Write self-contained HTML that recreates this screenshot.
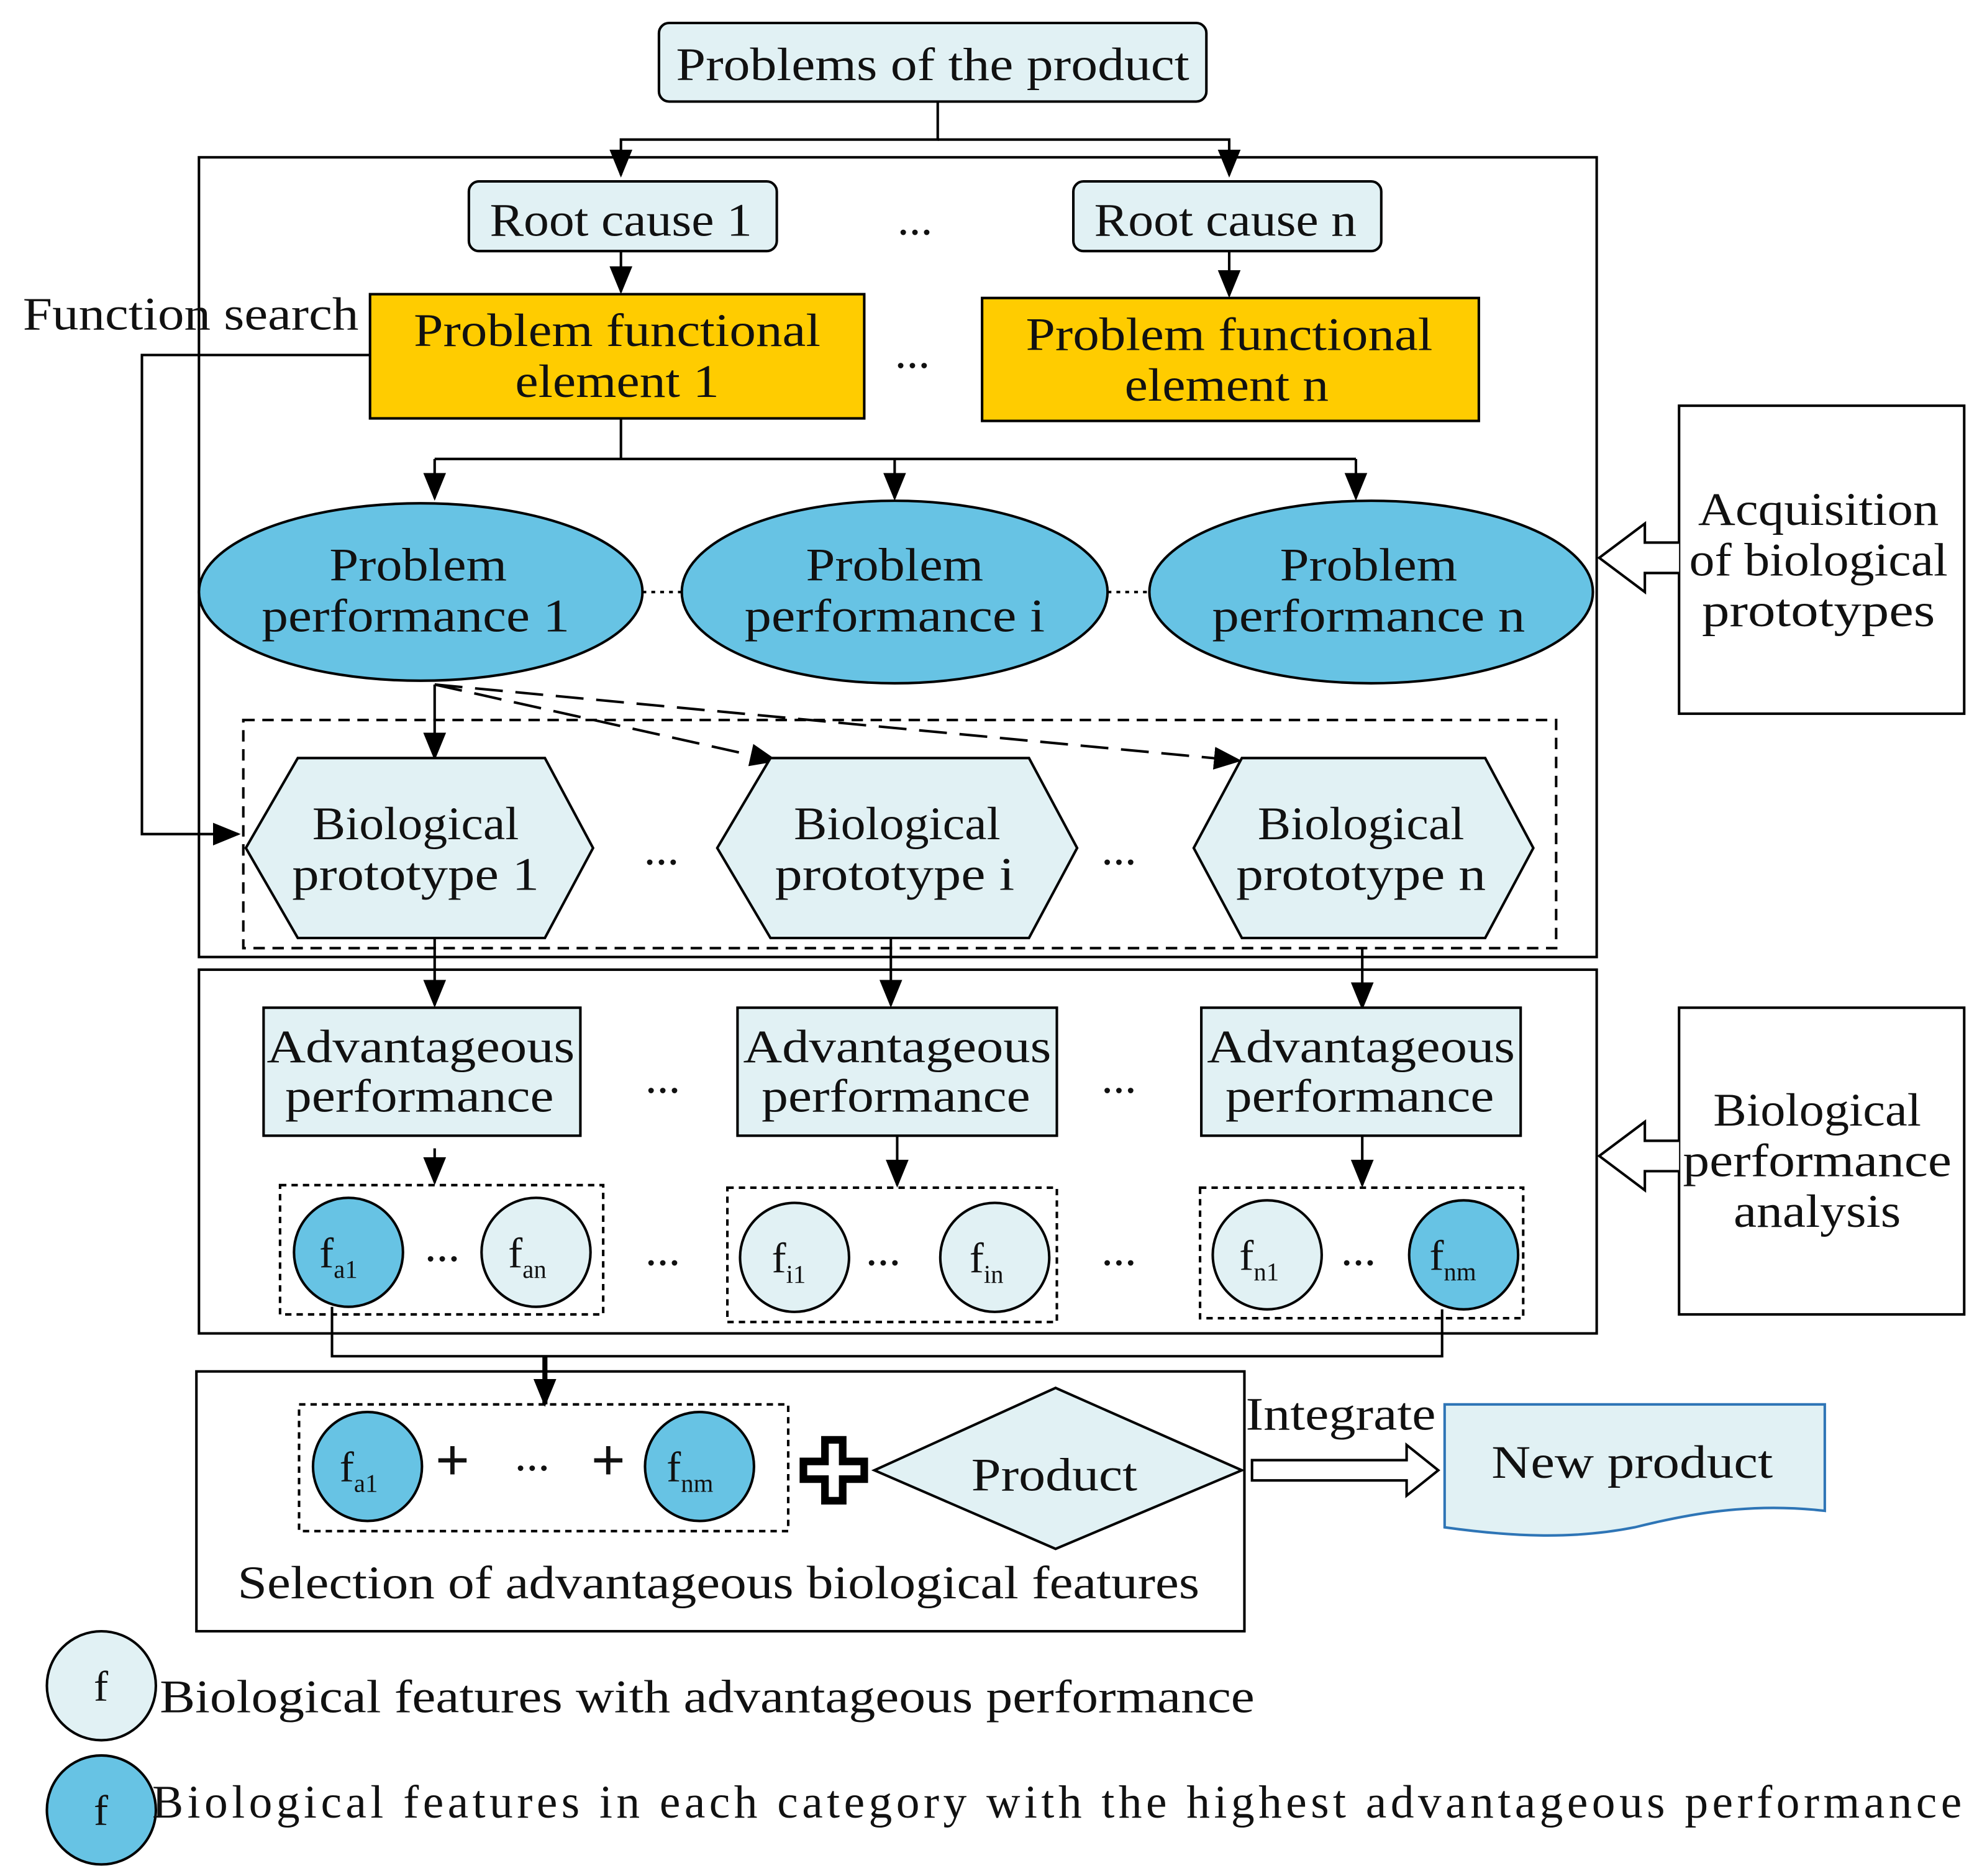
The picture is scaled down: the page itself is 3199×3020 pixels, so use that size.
<!DOCTYPE html>
<html><head><meta charset="utf-8"><style>
html,body{margin:0;padding:0;background:#fff;}
svg{display:block;}
text{font-family:"Liberation Serif",serif;fill:#111;}
</style></head><body>
<svg width="3199" height="3020" viewBox="0 0 1568 1480" xmlns="http://www.w3.org/2000/svg">
<defs>
<marker id="ah2" markerWidth="22" markerHeight="22" refX="20" refY="11" orient="auto" markerUnits="userSpaceOnUse" viewBox="0 0 22 22">
<path d="M0,2 L22,11 L0,20 z" fill="#000"/></marker>
</defs>
<g stroke="#000" stroke-width="2" fill="none">
<rect x="520" y="18" width="432" height="62" rx="8" fill="#e1f1f4"/>
<path d="M740,80 V110 H490 V138" marker-end="url(#ah2)"/>
<path d="M740,110 H970 V138" marker-end="url(#ah2)"/>
<rect x="157" y="124" width="1103" height="631"/>
<rect x="370" y="143" width="243" height="55" rx="8" fill="#e1f1f4"/>
<rect x="847" y="143" width="243" height="55" rx="8" fill="#e1f1f4"/>
<path d="M490,198 V230" marker-end="url(#ah2)"/>
<path d="M970,198 V233" marker-end="url(#ah2)"/>
<rect x="292" y="232" width="390" height="98" fill="#ffcc00"/>
<rect x="775" y="235" width="392" height="97" fill="#ffcc00"/>
<path d="M292,280 H112 V658 H188" marker-end="url(#ah2)"/>
<path d="M490,330 V362 H343 M490,362 H1070"/>
<path d="M343,362 V393" marker-end="url(#ah2)"/>
<path d="M706,362 V393" marker-end="url(#ah2)"/>
<path d="M1070,362 V393" marker-end="url(#ah2)"/>
<ellipse cx="332" cy="467" rx="175" ry="70" fill="#67c3e4"/>
<ellipse cx="706" cy="467" rx="168" ry="72" fill="#67c3e4"/>
<ellipse cx="1082" cy="467" rx="175" ry="72" fill="#67c3e4"/>
<path d="M507,467 H538 M874,467 H907" stroke-dasharray="3,4"/>
<rect x="192" y="568" width="1036" height="180" stroke-dasharray="9,6"/>
<path d="M343,540 V598" marker-end="url(#ah2)"/>
<path d="M343,540 L612,600" stroke-dasharray="22,10" marker-end="url(#ah2)"/>
<path d="M343,540 L978,600" stroke-dasharray="22,10" marker-end="url(#ah2)"/>
<polygon points="235,598 430,598 468,669 430,740 235,740 194,669" fill="#e1f1f4"/>
<polygon points="608,598 812,598 850,669 812,740 608,740 566,669" fill="#e1f1f4"/>
<polygon points="980,598 1172,598 1210,669 1172,740 980,740 942,669" fill="#e1f1f4"/>
<rect x="157" y="765" width="1103" height="287"/>
<path d="M343,740 V793" marker-end="url(#ah2)"/>
<path d="M703,740 V793" marker-end="url(#ah2)"/>
<path d="M1075,748 V795" marker-end="url(#ah2)"/>
<rect x="208" y="795" width="250" height="101" fill="#e1f1f4"/>
<rect x="582" y="795" width="252" height="101" fill="#e1f1f4"/>
<rect x="948" y="795" width="252" height="101" fill="#e1f1f4"/>
<path d="M343,906 V933" marker-end="url(#ah2)"/>
<path d="M708,896 V935" marker-end="url(#ah2)"/>
<path d="M1075,896 V935" marker-end="url(#ah2)"/>
<rect x="221" y="935" width="255" height="102" stroke-dasharray="5,4"/>
<rect x="574" y="937" width="260" height="106" stroke-dasharray="5,4"/>
<rect x="947" y="937" width="255" height="103" stroke-dasharray="5,4"/>
<circle cx="275" cy="988" r="43" fill="#67c3e4"/>
<circle cx="423" cy="988" r="43" fill="#e1f1f4"/>
<circle cx="627" cy="992" r="43" fill="#e1f1f4"/>
<circle cx="785" cy="992" r="43" fill="#e1f1f4"/>
<circle cx="1000" cy="990" r="43" fill="#e1f1f4"/>
<circle cx="1155" cy="990" r="43" fill="#67c3e4"/>
<path d="M262,1031 V1070 H1138 V1033"/>
<path d="M430,1070 V1108" stroke-width="4" marker-end="url(#ah2)"/>
<rect x="155" y="1082" width="827" height="205"/>
<rect x="236" y="1108" width="386" height="100" stroke-dasharray="5,4"/>
<circle cx="290" cy="1157" r="43" fill="#67c3e4"/>
<circle cx="552" cy="1157" r="43" fill="#67c3e4"/>
<path d="M651,1136 h14 v17 h17 v14 h-17 v17 h-14 v-17 h-17 v-14 h17 z" stroke-width="6" fill="#fff"/>
<polygon points="690,1160 833,1095 980,1160 833,1222" fill="#e1f1f4"/>
<path d="M988,1152 H1110 V1140 L1135,1160 L1110,1180 V1168 H988 z" fill="#fff"/>
<path d="M1140,1108 H1440 V1192 C1380,1185 1330,1195 1290,1205 C1240,1215 1190,1212 1140,1205 z" fill="#e1f1f4" stroke="#2e75b6"/>
<rect x="1325" y="320" width="225" height="243"/>
<rect x="1325" y="795" width="225" height="242"/>
<path d="M1325,428 H1298 V413 L1262,440 L1298,467 V452 H1325" fill="#fff"/>
<path d="M1325,900 H1298 V885 L1262,912 L1298,939 V924 H1325" fill="#fff"/>
<circle cx="80" cy="1330" r="43" fill="#e1f1f4"/>
<circle cx="80" cy="1428" r="43" fill="#67c3e4"/>
</g>
<g font-size="37" text-anchor="middle" lengthAdjust="spacingAndGlyphs">
<text x="736" y="63" textLength="405" lengthAdjust="spacingAndGlyphs">Problems of the product</text>
<text x="490" y="186" textLength="207" lengthAdjust="spacingAndGlyphs">Root cause 1</text>
<text x="967" y="186" textLength="207" lengthAdjust="spacingAndGlyphs">Root cause n</text>
<text x="722" y="185">...</text>
<text x="487" y="273" textLength="321" lengthAdjust="spacingAndGlyphs">Problem functional</text>
<text x="487" y="313" textLength="161" lengthAdjust="spacingAndGlyphs">element 1</text>
<text x="970" y="276" textLength="321" lengthAdjust="spacingAndGlyphs">Problem functional</text>
<text x="968" y="316" textLength="161" lengthAdjust="spacingAndGlyphs">element n</text>
<text x="720" y="290">...</text>
<text x="330" y="458" textLength="140" lengthAdjust="spacingAndGlyphs">Problem</text>
<text x="328" y="498" textLength="243" lengthAdjust="spacingAndGlyphs">performance 1</text>
<text x="706" y="458" textLength="140" lengthAdjust="spacingAndGlyphs">Problem</text>
<text x="706" y="498" textLength="237" lengthAdjust="spacingAndGlyphs">performance i</text>
<text x="1080" y="458" textLength="140" lengthAdjust="spacingAndGlyphs">Problem</text>
<text x="1080" y="498" textLength="247" lengthAdjust="spacingAndGlyphs">performance n</text>
<text x="328" y="662" textLength="163" lengthAdjust="spacingAndGlyphs">Biological</text>
<text x="328" y="702" textLength="195" lengthAdjust="spacingAndGlyphs">prototype 1</text>
<text x="708" y="662" textLength="163" lengthAdjust="spacingAndGlyphs">Biological</text>
<text x="706" y="702" textLength="189" lengthAdjust="spacingAndGlyphs">prototype i</text>
<text x="1074" y="662" textLength="163" lengthAdjust="spacingAndGlyphs">Biological</text>
<text x="1074" y="702" textLength="197" lengthAdjust="spacingAndGlyphs">prototype n</text>
<text x="522" y="682">...</text><text x="883" y="682">...</text>
<text x="332" y="838" textLength="243" lengthAdjust="spacingAndGlyphs">Advantageous</text>
<text x="331" y="877" textLength="212" lengthAdjust="spacingAndGlyphs">performance</text>
<text x="708" y="838" textLength="243" lengthAdjust="spacingAndGlyphs">Advantageous</text>
<text x="707" y="877" textLength="212" lengthAdjust="spacingAndGlyphs">performance</text>
<text x="1074" y="838" textLength="243" lengthAdjust="spacingAndGlyphs">Advantageous</text>
<text x="1073" y="877" textLength="212" lengthAdjust="spacingAndGlyphs">performance</text>
<text x="523" y="862">...</text><text x="883" y="862">...</text>
<text x="349" y="995">...</text><text x="697" y="998">...</text><text x="1072" y="998">...</text>
<text x="523" y="998">...</text><text x="883" y="998">...</text>
<text x="420" y="1160">...</text>
<text x="357" y="1168" font-size="48" font-weight="bold">+</text><text x="480" y="1168" font-size="48" font-weight="bold">+</text>
<text x="832" y="1176" textLength="131" lengthAdjust="spacingAndGlyphs">Product</text>
<text x="1058" y="1128" textLength="150" lengthAdjust="spacingAndGlyphs">Integrate</text>
<text x="1288" y="1166" textLength="222" lengthAdjust="spacingAndGlyphs">New product</text>
<text x="567" y="1261" textLength="759" lengthAdjust="spacingAndGlyphs">Selection of advantageous biological features</text>
<text x="1435" y="414" textLength="190" lengthAdjust="spacingAndGlyphs">Acquisition</text>
<text x="1435" y="454" textLength="204" lengthAdjust="spacingAndGlyphs">of biological</text>
<text x="1435" y="494" textLength="184" lengthAdjust="spacingAndGlyphs">prototypes</text>
<text x="1434" y="888" textLength="164" lengthAdjust="spacingAndGlyphs">Biological</text>
<text x="1434" y="928" textLength="212" lengthAdjust="spacingAndGlyphs">performance</text>
<text x="1434" y="968" textLength="132" lengthAdjust="spacingAndGlyphs">analysis</text>
</g>
<g font-size="37">
<text x="18" y="260" textLength="265" lengthAdjust="spacingAndGlyphs">Function search</text>
<text x="126" y="1351" textLength="864" lengthAdjust="spacingAndGlyphs">Biological features with advantageous performance</text>
<text x="120" y="1434" textLength="1428" lengthAdjust="spacing">Biological features in each category with the highest advantageous performance</text>
</g>
<g font-size="34">
<text x="252" y="1000">f<tspan font-size="20" dy="8">a1</tspan></text>
<text x="401" y="1000">f<tspan font-size="20" dy="8">an</tspan></text>
<text x="609" y="1004">f<tspan font-size="20" dy="8">i1</tspan></text>
<text x="765" y="1004">f<tspan font-size="20" dy="8">in</tspan></text>
<text x="978" y="1002">f<tspan font-size="20" dy="8">n1</tspan></text>
<text x="1128" y="1002">f<tspan font-size="20" dy="8">nm</tspan></text>
<text x="268" y="1169">f<tspan font-size="20" dy="8">a1</tspan></text>
<text x="526" y="1169">f<tspan font-size="20" dy="8">nm</tspan></text>
<text x="74" y="1342">f</text>
<text x="74" y="1440">f</text>
</g>
</svg>
</body></html>
